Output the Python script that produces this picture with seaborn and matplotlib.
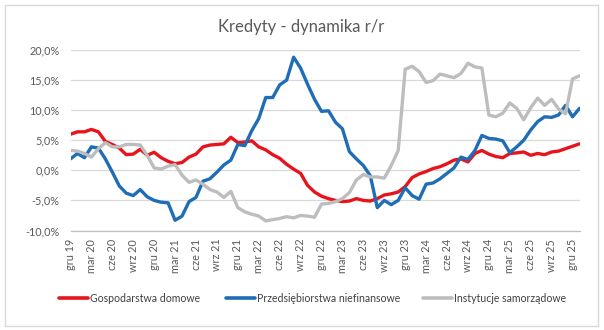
import matplotlib
matplotlib.use("Agg")
import matplotlib.pyplot as plt
from matplotlib.patches import Rectangle
from matplotlib.lines import Line2D
import seaborn as sns
import pandas as pd
import numpy as np

# Monthly data, Dec 2019 - Jan 2026 (y/y change, %)
months_pl = ["sty", "lut", "mar", "kwi", "maj", "cze", "lip", "sie", "wrz", "paź", "lis", "gru"]
start_year, start_month = 2019, 12
n_points = 74

gospodarstwa = [6.0, 6.4, 6.4, 6.8, 6.4, 4.8, 4.3, 3.7, 2.6, 2.7, 3.5, 2.5,
                3.0, 2.1, 1.5, 1.1, 1.3, 2.2, 2.7, 3.9, 4.2, 4.3, 4.4, 5.5,
                4.6, 4.7, 4.9, 3.9, 3.4, 2.6, 2.0, 1.0, 0.2, -0.5, -2.5, -3.6,
                -4.3, -4.7, -5.0, -5.2, -5.1, -4.7, -5.0, -5.1, -4.7, -4.1, -3.9, -3.6,
                -2.7, -1.2, -0.6, -0.2, 0.3, 0.6, 1.1, 1.7, 1.9, 1.4, 2.8, 3.3,
                2.7, 2.3, 2.1, 2.8, 2.9, 3.05, 2.5, 2.8, 2.6, 3.05, 3.2, 3.6,
                4.0, 4.4]
przedsiebiorstwa = [1.9, 2.8, 2.1, 3.9, 3.7, 1.9, -0.3, -2.6, -3.8, -4.2, -3.2, -4.4,
                    -5.0, -5.3, -5.4, -8.3, -7.6, -5.2, -4.5, -1.8, -1.4, -0.3, 0.9, 1.7,
                    4.3, 4.1, 6.6, 8.6, 12.1, 12.1, 14.2, 15.0, 18.8, 17.0, 14.3, 11.8,
                    9.8, 9.9, 8.0, 6.9, 3.1, 1.9, 0.8, -0.9, -6.2, -5.0, -5.7, -5.0,
                    -2.9, -4.2, -4.8, -2.3, -2.1, -1.4, -0.5, 0.4, 2.2, 1.8, 3.3, 5.8,
                    5.3, 5.2, 4.9, 2.95, 3.9, 5.0, 6.7, 8.1, 8.9, 8.8, 9.2, 10.8,
                    8.9, 10.3]
samorzady = [3.3, 3.2, 2.8, 2.2, 3.6, 4.6, 3.9, 3.9, 4.3, 4.3, 4.2, 2.5,
             0.4, 0.2, 0.7, 0.95, -0.8, -2.0, -1.6, -2.3, -3.2, -3.6, -4.5, -3.5,
             -6.2, -6.9, -7.3, -7.6, -8.4, -8.2, -8.0, -7.7, -7.9, -7.5, -7.6, -7.8,
             -5.6, -5.5, -5.2, -4.7, -3.7, -1.6, -0.7, -1.1, -1.1, -1.3, 0.8, 3.3,
             16.8, 17.3, 16.4, 14.6, 14.9, 16.0, 15.7, 15.4, 16.1, 17.8, 17.2, 17.0,
             9.2, 8.9, 9.5, 11.2, 10.3, 8.4, 10.4, 12.0, 10.8, 11.8, 10.2, 9.4,
             15.2, 15.7]

series_names = ["Gospodarstwa domowe", "Przedsiębiorstwa niefinansowe", "Instytucje samorządowe"]
series_colors = ["#E8141B", "#1F6DB5", "#BDBDBD"]

# month labels
labels = []
for i in range(n_points):
    m = (start_month - 1 + i) % 12
    y = start_year + (start_month - 1 + i) // 12
    labels.append(f"{months_pl[m]} {y % 100:02d}")

df = pd.DataFrame({
    "idx": list(range(n_points)) * 3,
    "value": gospodarstwa + przedsiebiorstwa + samorzady,
    "series": [series_names[0]] * n_points + [series_names[1]] * n_points + [series_names[2]] * n_points,
})

sns.set_style("white")
plt.rcParams["font.family"] = ["Lato", "DejaVu Sans"]

fig = plt.figure(figsize=(6.04, 3.30), dpi=100)
ax = fig.add_axes([70.5 / 604, 1 - 230.5 / 330, 509 / 604, 180.5 / 330])

sns.lineplot(data=df, x="idx", y="value", hue="series", palette=series_colors,
             hue_order=series_names, linewidth=2.4, ax=ax, legend=False)

ax.set_xlim(0, n_points - 1)
ax.set_ylim(-10, 20)
ax.set_yticks(np.arange(-10, 21, 5))
ax.set_yticklabels([f"{v:.1f}%".replace(".", ",") for v in np.arange(-10, 21, 5)],
                   fontsize=7.8, color="#595959")
ax.grid(axis="y", color="#D9D9D9", linewidth=0.9)
ax.set_axisbelow(True)
tick_pos = list(range(0, n_points, 3))
ax.set_xticks(tick_pos)
ax.set_xticklabels([labels[i] for i in tick_pos], rotation=90, fontsize=7.8, color="#595959")
ax.tick_params(axis="x", length=4, width=0.8, color="#BFBFBF", pad=2)
ax.tick_params(axis="y", length=0, pad=8)
for s in ["top", "right", "left"]:
    ax.spines[s].set_visible(False)
ax.spines["bottom"].set_color("#BFBFBF")
ax.spines["bottom"].set_linewidth(0.9)
ax.set_xlabel("")
ax.set_ylabel("")

fig.text(301 / 604, 1 - 27 / 330, "Kredyty - dynamika r/r", ha="center", va="center",
         fontsize=12, color="#595959")

# outer frame
fig.patches.append(Rectangle((5 / 604, 4 / 330), 593 / 604, 321 / 330, transform=fig.transFigure,
                             fill=False, edgecolor="#D9D9D9", linewidth=1.0))

# legend entries placed individually
legend_x = [55, 222, 419]
for name, color, lx in zip(series_names, series_colors, legend_x):
    fig.legend([Line2D([0], [0], color=color, linewidth=2.6)], [name],
               loc="center left", bbox_to_anchor=(lx / 604, 1 - 298 / 330),
               frameon=False, fontsize=7.6, handlelength=2.7, handletextpad=0.2,
               borderaxespad=0, labelcolor="#404040")

fig.savefig("out.png", dpi=100)
